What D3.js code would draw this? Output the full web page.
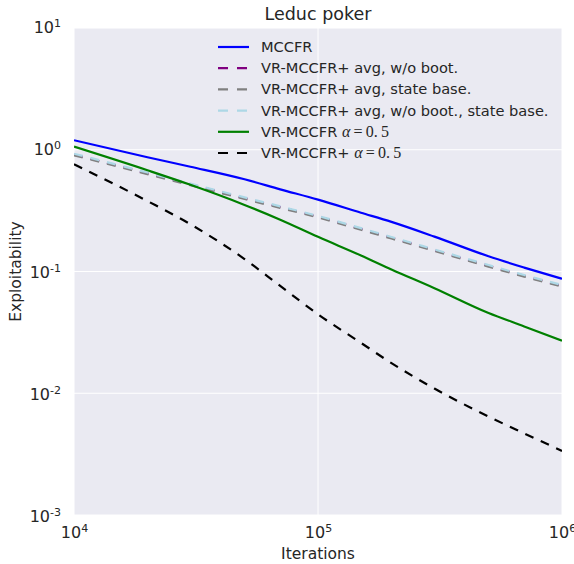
<!DOCTYPE html>
<html>
<head>
<meta charset="utf-8">
<script src="https://cdn.jsdelivr.net/npm/d3@7"></script>
<style>
  html, body { margin: 0; padding: 0; background: #fff; }
  svg { display: block; font-family: "DejaVu Sans", sans-serif; }
</style>
</head>
<body>
<svg id="chart" width="574" height="564"></svg>
<script>
// Data
const iterations = [1e4, 2e4, 3e4, 5e4, 7e4, 1e5, 1.5e5, 2e5, 3e5, 5e5, 7e5, 1e6];
const mccfr       = [1.197, 0.868, 0.725, 0.572, 0.473, 0.389, 0.304, 0.2555, 0.1934, 0.1333, 0.1077, 0.0871];
const vrAvgNoBoot = [0.914, 0.640, 0.520, 0.400, 0.338, 0.282, 0.2237, 0.1893, 0.1497, 0.1113, 0.0921, 0.0763];
const vrAvgState  = [0.901, 0.631, 0.512, 0.394, 0.333, 0.278, 0.2204, 0.1865, 0.1475, 0.1097, 0.0908, 0.0752];
const vrAvgBoth   = [0.928, 0.650, 0.527, 0.406, 0.343, 0.286, 0.2270, 0.1921, 0.1519, 0.1130, 0.0935, 0.0775];
const vrAlpha     = [1.060, 0.678, 0.515, 0.352, 0.2664, 0.1926, 0.1355, 0.1040, 0.0729, 0.0456, 0.0354, 0.0270];
const vrPlusAlpha = [0.760, 0.379, 0.2446, 0.1265, 0.0761, 0.0445, 0.02594, 0.01769, 0.01093, 0.00643, 0.00468, 0.00336];

const xTicks = [1e4, 1e5, 1e6];
const yTicks = [1e-3, 1e-2, 1e-1, 1e0, 1e1];

const series = [
    { label: 'MCCFR', values: mccfr, color: '#0000ff', dashed: false },
    { label: 'VR-MCCFR+ avg, w/o boot.', values: vrAvgNoBoot, color: '#800080', dashed: true },
    { label: 'VR-MCCFR+ avg, state base.', values: vrAvgState, color: '#808080', dashed: true },
    { label: 'VR-MCCFR+ avg, w/o boot., state base.', values: vrAvgBoth, color: '#add8e6', dashed: true },
    { label: 'VR-MCCFR', math: true, values: vrAlpha, color: '#008000', dashed: false },
    { label: 'VR-MCCFR+', math: true, values: vrPlusAlpha, color: '#000000', dashed: true }
];

const svg = d3.select('#chart');
const pLeft = 74, pRight = 562, pTop = 28, pBottom = 515;

const x = d3.scaleLog().domain([1e4, 1e6]).range([pLeft, pRight]);
const y = d3.scaleLog().domain([1e-3, 1e1]).range([pBottom, pTop]);

// Background
svg.append('rect')
    .attr('x', pLeft).attr('y', pTop)
    .attr('width', pRight - pLeft).attr('height', pBottom - pTop)
    .attr('fill', '#eaeaf2');

svg.append('clipPath').attr('id', 'clip')
    .append('rect')
    .attr('x', pLeft).attr('y', pTop)
    .attr('width', pRight - pLeft).attr('height', pBottom - pTop);

// Grid
const grid = svg.append('g');
grid.selectAll('.gx')
    .data(xTicks)
    .enter().append('line')
    .attr('x1', d => x(d)).attr('x2', d => x(d))
    .attr('y1', pTop).attr('y2', pBottom)
    .attr('stroke', '#fff').attr('stroke-width', 1);
grid.selectAll('.gy')
    .data(yTicks)
    .enter().append('line')
    .attr('x1', pLeft).attr('x2', pRight)
    .attr('y1', d => y(d)).attr('y2', d => y(d))
    .attr('stroke', '#fff').attr('stroke-width', 1);

// Axes (labels as 10^n)
function powerLabel(sel, expSize) {
    sel.each(function(d) {
        const t = d3.select(this);
        const e = Math.round(Math.log10(d));
        t.text(null);
        t.append('tspan').text('10');
        t.append('tspan')
            .attr('dy', -6)
            .attr('font-size', expSize)
            .text(e);
    });
}

const xAxis = svg.append('g')
    .attr('transform', `translate(0,${pBottom})`)
    .call(d3.axisBottom(x).tickValues(xTicks).tickSize(0));
xAxis.select('.domain').remove();
xAxis.selectAll('text')
    .attr('y', 23).attr('dy', null)
    .attr('font-size', 16).attr('fill', '#262626')
    .attr('font-family', 'DejaVu Sans')
    .call(powerLabel, 11);

const yAxis = svg.append('g')
    .attr('transform', `translate(${pLeft},0)`)
    .call(d3.axisLeft(y).tickValues(yTicks).tickSize(0));
yAxis.select('.domain').remove();
yAxis.selectAll('text')
    .attr('x', -13).attr('dy', null)
    .attr('y', d => d < 1 ? 6 : 4.5)
    .attr('font-size', 16).attr('fill', '#262626')
    .attr('font-family', 'DejaVu Sans')
    .call(powerLabel, 11);

// Lines
const line = d3.line()
    .x((d, i) => x(iterations[i]))
    .y(d => y(d))
    .curve(d3.curveMonotoneX);

svg.append('g').attr('clip-path', 'url(#clip)')
    .selectAll('path')
    .data(series)
    .enter().append('path')
    .attr('d', d => line(d.values))
    .attr('fill', 'none')
    .attr('stroke', d => d.color)
    .attr('stroke-width', 2.2)
    .attr('stroke-dasharray', d => d.dashed ? '9,8' : null);

// Legend
const legend = svg.append('g').selectAll('g')
    .data(series)
    .enter().append('g')
    .attr('transform', (d, i) => `translate(218,${47 + i * 21.2})`);

legend.append('line')
    .attr('x1', 0).attr('x2', 31)
    .attr('stroke', d => d.color)
    .attr('stroke-width', 2.2)
    .attr('stroke-dasharray', d => d.dashed ? '10,9' : null);

legend.append('text')
    .attr('x', 43).attr('y', 5)
    .attr('font-size', 14.6)
    .attr('fill', '#262626')
    .each(function(d) {
        const t = d3.select(this);
        t.append('tspan').text(d.label + (d.math ? ' ' : ''));
        if (d.math) {
            t.append('tspan')
                .attr('font-family', 'Liberation Serif, serif')
                .attr('font-style', 'italic')
                .attr('font-size', 16)
                .text('α');
            t.append('tspan')
                .attr('font-family', 'Liberation Serif, serif')
                .attr('font-size', 16)
                .text('\u2009=\u20090.\u20095');
        }
    });

// Titles
svg.append('text')
    .attr('x', (pLeft + pRight) / 2).attr('y', 20)
    .attr('text-anchor', 'middle')
    .attr('font-size', 17.5).attr('fill', '#262626')
    .text('Leduc poker');

svg.append('text')
    .attr('x', (pLeft + pRight) / 2).attr('y', 559)
    .attr('text-anchor', 'middle')
    .attr('font-size', 15.5).attr('fill', '#262626')
    .text('Iterations');

svg.append('text')
    .attr('transform', `translate(21,${(pTop + pBottom) / 2}) rotate(-90)`)
    .attr('text-anchor', 'middle')
    .attr('font-size', 15.5).attr('fill', '#262626')
    .text('Exploitability');
</script>
</body>
</html>
